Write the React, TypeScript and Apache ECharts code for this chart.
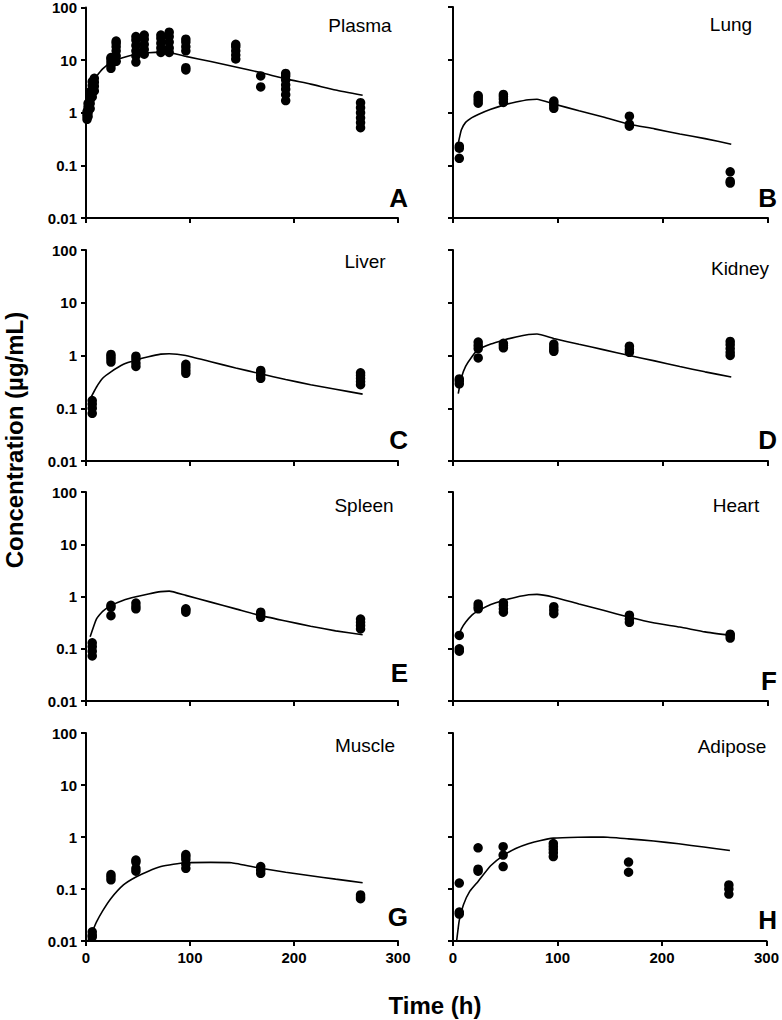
import React, { useEffect, useRef } from "react";
import * as echarts from "echarts";

// ---------- data ----------
const yTickLabels = ["0.01", "0.1", "1", "10", "100"];
const xTickValues = [0, 100, 200, 300];
const panelNames = ["Plasma", "Lung", "Liver", "Kidney", "Spleen", "Heart", "Muscle", "Adipose"];
const panelLetters = ["A", "B", "C", "D", "E", "F", "G", "H"];

// observed: [time, [values...]]
const plasmaObs: [number, number[]][] = [
  [1, [0.75, 0.85, 0.95, 1.05]],
  [2, [0.85, 1.0, 1.15, 1.3, 1.5]],
  [4, [1.2, 1.5, 1.8, 2.2, 2.5]],
  [6, [2.0, 2.4, 2.8, 3.3, 3.9]],
  [8, [2.6, 3.2, 3.8, 4.5]],
  [24, [7.0, 8.0, 9.2, 10.5, 11.2]],
  [29, [9.5, 12, 15, 18, 21, 23]],
  [48, [9.2, 12, 15, 19, 24, 28]],
  [56, [13, 16, 20, 25, 30]],
  [72, [14, 17, 21, 26, 30]],
  [80, [14, 17, 22, 28, 34]],
  [96, [6.5, 7.2, 15, 18, 22, 25]],
  [144, [10.5, 12.5, 15, 18, 20]],
  [168, [3.1, 5.0]],
  [192, [1.7, 2.2, 2.8, 3.4, 4.2, 5.0, 5.6]],
  [264, [0.52, 0.65, 0.8, 1.0, 1.25, 1.55]],
];
const plasmaFitT = [1, 2, 4, 6, 10, 16, 24, 36, 48, 60, 72, 80, 96, 120, 144, 168, 192, 216, 240, 266];
const plasmaFitV = [1.0, 1.8, 3.0, 3.8, 4.9, 6.8, 9.0, 11.2, 12.9, 13.8, 14.2, 14.0, 11.8, 9.4, 7.4, 5.8, 4.4, 3.5, 2.7, 2.15];

const lungObs: [number, number[]][] = [
  [6, [0.135, 0.21, 0.23]],
  [24, [1.5, 1.7, 1.9, 2.1]],
  [48, [1.55, 1.8, 2.0, 2.2]],
  [96, [1.2, 1.35, 1.5, 1.65]],
  [168, [0.55, 0.6, 0.85]],
  [264, [0.046, 0.05, 0.075]],
];
const lungFitT = [5, 8, 12, 18, 24, 36, 48, 60, 72, 80, 96, 120, 144, 168, 192, 216, 240, 265];
const lungFitV = [0.26, 0.47, 0.65, 0.8, 0.92, 1.15, 1.38, 1.58, 1.75, 1.78, 1.45, 1.08, 0.81, 0.6, 0.49, 0.39, 0.32, 0.25];

const liverObs: [number, number[]][] = [
  [6, [0.08, 0.1, 0.12, 0.14]],
  [24, [0.75, 0.85, 0.95, 1.05]],
  [48, [0.62, 0.72, 0.85, 0.97]],
  [96, [0.46, 0.52, 0.6, 0.68]],
  [168, [0.37, 0.42, 0.48, 0.52]],
  [264, [0.28, 0.32, 0.37, 0.42, 0.47]],
];
const liverFitT = [4, 10, 16, 24, 36, 48, 60, 72, 80, 96, 120, 144, 168, 192, 216, 240, 266];
const liverFitV = [0.15, 0.25, 0.37, 0.49, 0.68, 0.82, 0.95, 1.06, 1.08, 1.0, 0.76, 0.58, 0.45, 0.35, 0.28, 0.23, 0.185];

const kidneyObs: [number, number[]][] = [
  [6, [0.29, 0.33, 0.36]],
  [24, [0.9, 1.35, 1.55, 1.8]],
  [48, [1.4, 1.55, 1.7]],
  [96, [1.2, 1.3, 1.45, 1.65]],
  [168, [1.15, 1.3, 1.5]],
  [264, [1.0, 1.15, 1.35, 1.6, 1.85]],
];
const kidneyFitT = [5, 8, 12, 18, 24, 36, 48, 60, 72, 80, 96, 120, 144, 168, 192, 216, 240, 265];
const kidneyFitV = [0.19, 0.38, 0.62, 0.95, 1.3, 1.65, 1.95, 2.25, 2.5, 2.55, 2.1, 1.63, 1.28, 1.0, 0.79, 0.62, 0.49, 0.39];

const spleenObs: [number, number[]][] = [
  [6, [0.073, 0.09, 0.11, 0.13]],
  [24, [0.43, 0.62, 0.68]],
  [48, [0.58, 0.65, 0.75]],
  [96, [0.5, 0.55, 0.58]],
  [168, [0.4, 0.45, 0.5]],
  [264, [0.24, 0.28, 0.32, 0.37]],
];
const spleenFitT = [4, 10, 16, 24, 36, 48, 60, 72, 80, 96, 120, 144, 168, 192, 216, 240, 266];
const spleenFitV = [0.17, 0.37, 0.52, 0.67, 0.85, 0.99, 1.12, 1.24, 1.27, 1.05, 0.78, 0.58, 0.43, 0.34, 0.27, 0.22, 0.185];

const heartObs: [number, number[]][] = [
  [6, [0.09, 0.1, 0.18]],
  [24, [0.58, 0.64, 0.72]],
  [48, [0.5, 0.58, 0.68, 0.76]],
  [96, [0.47, 0.55, 0.64]],
  [168, [0.32, 0.37, 0.44]],
  [264, [0.16, 0.18, 0.19]],
];
const heartFitT = [5, 8, 12, 18, 24, 36, 48, 60, 72, 80, 96, 120, 144, 168, 192, 216, 240, 264];
const heartFitV = [0.17, 0.24, 0.32, 0.44, 0.53, 0.7, 0.84, 0.97, 1.08, 1.1, 0.97, 0.72, 0.54, 0.4, 0.31, 0.26, 0.21, 0.18];

const muscleObs: [number, number[]][] = [
  [6, [0.012, 0.013, 0.015]],
  [24, [0.15, 0.17, 0.19]],
  [48, [0.22, 0.25, 0.33, 0.36]],
  [96, [0.25, 0.3, 0.37, 0.42, 0.46]],
  [168, [0.2, 0.23, 0.27]],
  [264, [0.065, 0.07, 0.077]],
];
const muscleFitT = [2, 6, 10, 16, 24, 36, 48, 60, 72, 84, 96, 120, 140, 168, 192, 216, 240, 266];
const muscleFitV = [0.0105, 0.015, 0.023, 0.038, 0.066, 0.12, 0.17, 0.22, 0.27, 0.3, 0.32, 0.325, 0.32, 0.25, 0.21, 0.18, 0.155, 0.132];

const adiposeObs: [number, number[]][] = [
  [6, [0.033, 0.036, 0.13]],
  [24, [0.22, 0.24, 0.62]],
  [48, [0.27, 0.45, 0.65]],
  [96, [0.42, 0.5, 0.58, 0.66, 0.75]],
  [168, [0.21, 0.33]],
  [264, [0.08, 0.1, 0.12]],
];
const adiposeFitT = [3.5, 6, 10, 16, 24, 36, 48, 60, 72, 84, 96, 120, 144, 168, 192, 216, 240, 265];
const adiposeFitV = [0.0101, 0.025, 0.05, 0.09, 0.14, 0.28, 0.44, 0.6, 0.74, 0.86, 0.95, 0.99, 1.0, 0.92, 0.84, 0.74, 0.64, 0.55];

const allObs = [plasmaObs, lungObs, liverObs, kidneyObs, spleenObs, heartObs, muscleObs, adiposeObs];
const allFitT = [plasmaFitT, lungFitT, liverFitT, kidneyFitT, spleenFitT, heartFitT, muscleFitT, adiposeFitT];
const allFitV = [plasmaFitV, lungFitV, liverFitV, kidneyFitV, spleenFitV, heartFitV, muscleFitV, adiposeFitV];

// ---------- layout ----------
const FONT = "'Liberation Sans', Arial, Helvetica, sans-serif";
const colLeft = [86, 453];
const colWidth = [312, 315];
const rowTop = [7, 250, 492, 733];
const rowHeight = [211, 211, 209, 208];
const namePos = [
  [360, 25], [731, 24], [365, 261], [740, 268],
  [364, 505], [736, 505], [365, 745], [732, 746],
];
const letterPos = [
  [408, 198], [777, 198], [408, 440], [777, 440],
  [408, 673], [777, 681], [408, 917], [777, 920],
];

function labelFor(v: number): string {
  const e = Math.round(Math.log10(v)) + 2;
  return yTickLabels[e] ?? String(v);
}

export default function App() {
  const ref = useRef<HTMLDivElement>(null);
  useEffect(() => {
    document.body.style.margin = "0";
    const chart = echarts.init(ref.current!, undefined, { renderer: "svg" });
    const grids: any[] = [];
    const xAxes: any[] = [];
    const yAxes: any[] = [];
    const series: any[] = [];
    const graphics: any[] = [];
    for (let i = 0; i < 8; i++) {
      const col = i % 2;
      const row = Math.floor(i / 2);
      grids.push({ left: colLeft[col], top: rowTop[row], width: colWidth[col], height: rowHeight[row] });
      xAxes.push({
        type: "value",
        gridIndex: i,
        min: xTickValues[0],
        max: xTickValues[xTickValues.length - 1],
        interval: 100,
        axisLine: { show: true, onZero: false, lineStyle: { color: "#000", width: 2 } },
        axisTick: { show: true, length: 5, lineStyle: { color: "#000", width: 2 } },
        splitLine: { show: false },
        axisLabel: {
          show: row === 3,
          margin: 9,
          color: "#000",
          fontWeight: "bold",
          fontSize: 15,
          fontFamily: FONT,
        },
      });
      yAxes.push({
        type: "log",
        logBase: 10,
        gridIndex: i,
        min: 0.01,
        max: 100,
        axisLine: { show: true, lineStyle: { color: "#000", width: 2 } },
        axisTick: { show: true, length: 5, lineStyle: { color: "#000", width: 2 } },
        splitLine: { show: false },
        minorTick: { show: false },
        axisLabel: {
          show: col === 0,
          margin: 9,
          color: "#000",
          fontWeight: "bold",
          fontSize: 15,
          fontFamily: FONT,
          formatter: (v: number) => labelFor(v),
        },
      });
      const pts: number[][] = [];
      for (const [t, vals] of allObs[i]) for (const v of vals) pts.push([t, v]);
      series.push({
        type: "line",
        xAxisIndex: i,
        yAxisIndex: i,
        data: allFitT[i].map((t, k) => [t, allFitV[i][k]]),
        showSymbol: false,
        symbol: "none",
        lineStyle: { color: "#000", width: 1.6 },
        smooth: 0.15,
        z: 3,
      });
      series.push({
        type: "scatter",
        xAxisIndex: i,
        yAxisIndex: i,
        data: pts,
        symbol: "circle",
        symbolSize: 9.5,
        itemStyle: { color: "#000", opacity: 1 },
        z: 4,
      });
      graphics.push({
        type: "text",
        x: namePos[i][0],
        y: namePos[i][1],
        style: {
          text: panelNames[i],
          fontSize: 19,
          fontFamily: FONT,
          fill: "#000",
          textAlign: "center",
          textVerticalAlign: "middle",
        },
      });
      graphics.push({
        type: "text",
        x: letterPos[i][0],
        y: letterPos[i][1],
        style: {
          text: panelLetters[i],
          fontSize: 26,
          fontWeight: "bold",
          fontFamily: FONT,
          fill: "#000",
          textAlign: "right",
          textVerticalAlign: "middle",
        },
      });
    }
    graphics.push({
      type: "text",
      x: 14,
      y: 440,
      rotation: Math.PI / 2,
      style: {
        text: "Concentration (\u00b5g/mL)",
        fontSize: 24,
        fontWeight: "bold",
        fontFamily: FONT,
        fill: "#000",
        textAlign: "center",
        textVerticalAlign: "middle",
      },
    });
    graphics.push({
      type: "text",
      x: 435,
      y: 1005,
      style: {
        text: "Time (h)",
        fontSize: 24,
        fontWeight: "bold",
        fontFamily: FONT,
        fill: "#000",
        textAlign: "center",
        textVerticalAlign: "middle",
      },
    });
    chart.setOption({
      animation: false,
      backgroundColor: "#fff",
      grid: grids,
      xAxis: xAxes,
      yAxis: yAxes,
      series,
      graphic: graphics,
    });
    return () => chart.dispose();
  }, []);
  return <div ref={ref} style={{ width: 782, height: 1020 }} />;
}
